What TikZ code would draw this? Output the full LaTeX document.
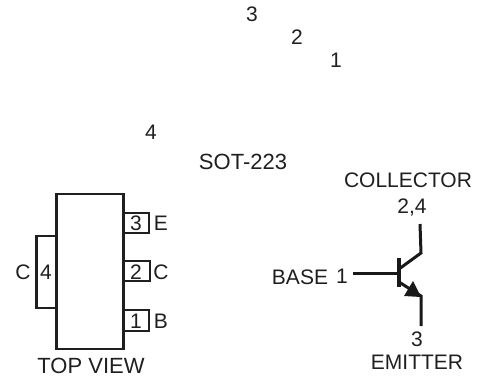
\documentclass[tikz,border=0pt]{standalone}
\usepackage{fontspec}
\setmainfont{Liberation Sans}
\tikzset{
  lbl/.style={inner sep=0pt,text=black!88,font=\fontsize{21}{23}\selectfont,anchor=center},
  lblbig/.style={lbl,font=\fontsize{22}{24}\selectfont},
  pkg/.style={draw=black!88,line width=2.6pt,fill=white},
  pin/.style={draw=black!88,line width=2.2pt,fill=white},
  wire/.style={draw=black!90,line width=3pt}
}
\begin{document}
\begin{tikzpicture}[x=1pt,y=-1pt]
\useasboundingbox (0,0) rectangle (485,377);
% top pin labels
\node[lbl] (t3) at (252,14) {3};
\node[lbl] (t2) at (297,37) {2};
\node[lbl] (t1) at (336,60) {1};
\node[lbl] (t4) at (151,132) {4};
\node[lblbig] (sot) at (243,162) {SOT-223};
% package
\draw[pin] (56,236) -- (36.5,236) -- (36.5,308) -- (56,308);
\draw[pin] (124,213) -- (149,213) -- (149,233) -- (124,233);
\draw[pin] (124,261) -- (150,261) -- (150,281) -- (124,281);
\draw[pin] (124,310) -- (149,310) -- (149,331) -- (124,331);
\draw[pkg] (56.5,194) rectangle (123.5,349);
\node[lbl] (lc) at (23,272) {C};
\node[lbl] (l4) at (46,272) {4};
\node[lbl] (p3) at (136,223) {3};
\node[lbl] (pe) at (161,223) {E};
\node[lbl] (p2) at (136,272) {2};
\node[lbl] (pc) at (161,272) {C};
\node[lbl] (p1) at (136,321) {1};
\node[lbl] (pb) at (161,321) {B};
\node[lblbig] (tv) at (91,366) {TOP VIEW};
% transistor
\coordinate (bl) at (353,273);
\coordinate (br) at (399,273);
\coordinate (bt) at (399,258);
\coordinate (bb) at (399,287);
\coordinate (ck) at (421,253);
\coordinate (ct) at (420,224);
\coordinate (ek) at (421,296);
\coordinate (ee) at (421,326);
\draw[wire] (bl) -- (br);
\draw[wire,line width=3.8pt] (bt) -- (bb);
\draw[wire] (399,269) -- (ck) -- (ct);
\draw[wire] (399,282) -- (ek) -- (ee);
\fill[black!90] (421,297) -- (413,281) -- (404,296) -- cycle;
\node[lbl] (coll) at (408,180) {COLLECTOR};
\node[lbl] (n24) at (412,208) {2,4};
\node[lbl] (base) at (300,277) {BASE};
\node[lbl] (n1) at (342,276) {1};
\node[lbl] (n3) at (417,339) {3};
\node[lbl] (emit) at (417,362) {EMITTER};
\end{tikzpicture}
\end{document}
